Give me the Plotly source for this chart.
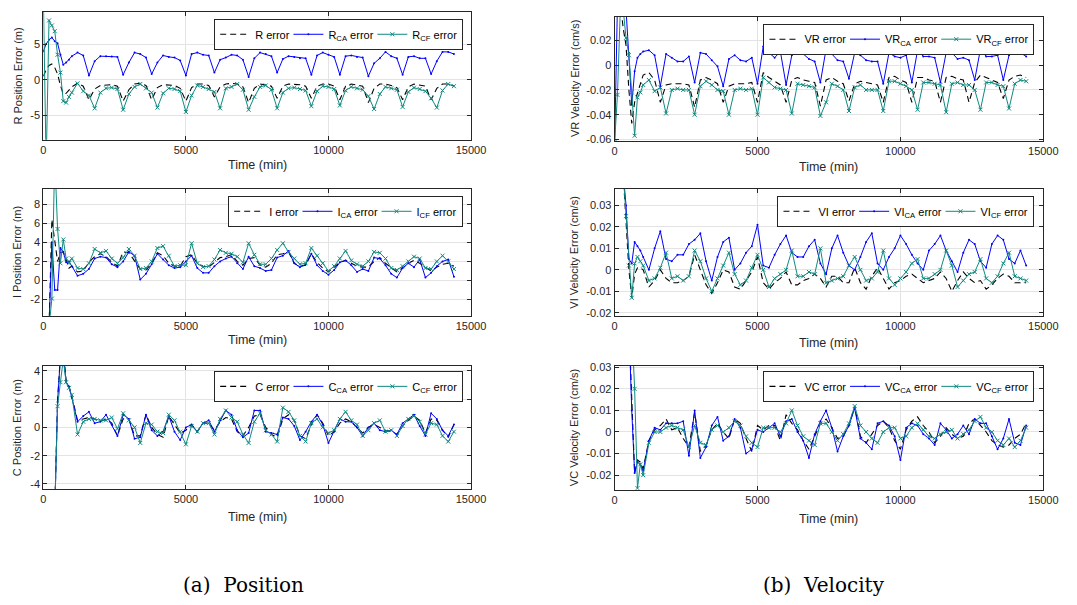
import plotly.graph_objects as go

# sample times (min), shared by every series
TIME = [0, 100, 200, 300, 400, 500, 600, 700, 800, 900, 1000,
        1200, 1400, 1600, 1800, 2000, 2200, 2400, 2600, 2800, 3000,
        3200, 3400, 3600, 3800, 4000, 4200, 4400, 4600, 4800, 5000,
        5200, 5400, 5600, 5800, 6000, 6200, 6400, 6600, 6800, 7000,
        7200, 7400, 7600, 7800, 8000, 8200, 8400, 8600, 8800, 9000,
        9200, 9400, 9600, 9800, 10000, 10200, 10400, 10600, 10800, 11000,
        11200, 11400, 11600, 11800, 12000, 12200, 12400, 12600, 12800, 13000,
        13200, 13400, 13600, 13800, 14000, 14200, 14400]

# ---- position errors (m) ----
R_ERR = [0.5, 1.4, 2.0, 2.2, 1.7, 0.8, -0.8, -2.0, -1.9, -1.5, -1.0,
         -0.5, -0.9, -2.8, -1.3, -0.8, -0.7, -0.7, -0.9, -3.0, -1.4,
         -0.6, -0.5, -0.8, -2.8, -1.1, -0.7, -0.7, -0.8, -1.2, -3.0,
         -1.1, -0.6, -0.6, -0.8, -2.4, -1.0, -0.6, -0.5, -0.6, -1.0,
         -3.2, -1.2, -0.6, -0.7, -0.9, -2.6, -0.9, -0.6, -0.6, -0.7,
         -0.9, -2.6, -0.9, -0.6, -0.6, -0.9, -2.8, -0.9, -0.6, -0.7,
         -0.9, -3.2, -1.2, -0.6, -0.6, -0.8, -1.1, -2.8, -1.0, -0.6,
         -0.7, -0.9, -2.8, -1.2, -0.6, -0.6, -0.9]
R_CA = [4.0, 5.0, 5.6, 5.9, 5.4, 5.1, 3.5, 2.1, 2.4, 2.8, 3.3,
        3.8, 3.4, 0.6, 2.6, 3.3, 3.3, 3.25, 3.2, 0.7, 2.4,
        3.8, 3.6, 3.1, 0.8, 2.4, 3.4, 3.2, 3.1, 2.7, 0.6,
        3.6, 3.8, 3.5, 3.4, 1.0, 2.8, 3.1, 3.5, 3.4, 2.8,
        0.4, 3.0, 3.8, 3.6, 3.3, 1.0, 2.9, 3.3, 3.2, 3.0,
        3.0, 0.7, 3.4, 3.8, 3.5, 3.2, 0.7, 3.3, 3.4, 3.2,
        3.1, 0.5, 2.3, 3.0, 3.9, 3.3, 3.0, 0.7, 3.2, 3.3,
        3.0, 3.0, 0.8, 2.6, 3.9, 3.9, 3.6]
R_CF = [12, -12, 8.3, 7.6, 6.8, 3.5, 1.0, -3.0, -3.2, -2.4, -1.8,
        -0.5, -1.6, -2.2, -4.0, -1.8, -1.2, -1.1, -1.3, -4.2, -2.0,
        -1.0, -0.6, -1.2, -1.8, -3.9, -1.9, -1.2, -1.3, -1.6, -4.5,
        -2.2, -0.8, -1.0, -1.3, -1.7, -4.0, -1.2, -1.0, -0.6, -1.4,
        -4.2, -2.4, -1.0, -0.8, -1.4, -4.0, -1.8, -1.2, -1.1, -1.3,
        -1.5, -3.7, -1.6, -0.9, -1.0, -1.3, -3.6, -1.5, -1.0, -1.2,
        -1.4, -2.3, -4.1, -2.0, -1.0, -1.2, -1.4, -3.8, -1.7, -1.1,
        -1.3, -1.6, -2.6, -3.9, -1.5, -0.6, -0.9]

I_ERR = [None, None, -5, 6.4, 4.2, 2.0, 2.9, 3.0, 2.2, 1.3, 1.5,
         0.9, 1.0, 1.9, 2.5, 2.8, 2.5, 1.9, 1.5, 3.0, 2.9,
         2.0, 1.2, 1.1, 1.8, 2.9, 2.6, 1.8, 1.5, 1.5, 2.5,
         2.7, 1.8, 1.5, 1.4, 1.9, 2.4, 2.5, 2.7, 2.0, 1.6,
         2.3, 2.4, 1.6, 1.4, 1.8, 2.7, 2.8, 3.0, 1.8, 1.5,
         1.6, 2.8, 1.9, 1.3, 0.9, 1.4, 1.9, 2.1, 1.8, 1.5,
         1.4, 1.4, 2.0, 2.4, 1.8, 1.3, 0.9, 1.3, 1.8, 2.1,
         1.8, 1.4, 1.0, 1.4, 1.7, 1.8, 1.5]
I_CA = [None, None, -5, 4.0, -1.0, -1.0, 3.4, 3.0, 1.9, 2.0, 1.5,
        0.5, 0.7, 1.2, 2.3, 2.5, 2.4, 1.7, 1.4, 2.0, 3.0,
        2.6, 0.1, 0.7, 1.7, 2.8, 2.2, 1.6, 1.3, 1.4, 2.0,
        2.6, 1.3, 0.8, 0.8, 1.5, 2.0, 2.3, 2.5, 1.8, 1.2,
        2.5, 1.5, 1.3, 1.0, 1.1, 2.4, 2.6, 3.1, 1.8, 1.4,
        1.7, 2.8, 1.6, 1.0, 0.6, 1.1, 1.9, 2.1, 1.6, 0.9,
        1.2, 1.0, 2.4, 2.3, 1.6, 0.7, 0.3, 1.3, 1.8, 1.4,
        2.2, 0.3, 0.8, 1.5, 2.0, 2.2, 0.4]
I_CF = [None, None, -5, -1.9, 13, 5.4, 1.8, 4.3, 2.3, 1.8, 2.3,
        1.3, 1.2, 1.8, 3.3, 2.9, 3.1, 2.3, 1.8, 2.4, 3.3,
        2.6, 1.2, 1.3, 2.0, 3.4, 3.6, 2.6, 1.5, 1.6, 1.6,
        3.9, 1.8, 1.4, 1.5, 2.2, 3.2, 2.9, 2.8, 2.5, 1.9,
        3.9, 2.7, 1.7, 1.7, 2.3, 3.2, 3.9, 3.0, 2.3, 1.7,
        1.8, 3.4, 2.6, 1.8, 1.0, 1.5, 2.3, 3.1, 2.1, 1.7,
        1.5, 2.0, 3.0, 2.9, 2.3, 1.3, 1.1, 1.5, 2.0, 2.5,
        2.3, 1.3, 1.2, 2.0, 2.6, 2.0, 1.2]

C_ERR = [None, None, None, None, -6, 2.0, 5.0, 5.5, 3.3, 2.9, 2.2,
         0.5, 0.6, 0.7, 0.6, 0.4, 0.6, 0.3, -0.6, 0.6, 0.6,
         -0.6, -0.6, 0.9, 0.0, -0.5, -0.7, 0.8, 0.2, -0.4, -0.2,
         0.2, -0.3, 0.3, 0.3, -0.2, 0.4, 0.7, 0.6, -0.3, -0.6,
         0.0, 0.8, 0.9, 0.0, -0.5, -0.7, 0.6, 0.9, 0.5, -0.6,
         -0.8, 0.2, 0.9, 0.3, -0.6, -0.3, 0.3, 0.6, 0.4, 0.0,
         -0.4, 0.0, 0.2, 0.0, -0.2, -0.3, -0.5, 0.1, 0.5, 0.8,
         0.5, -0.4, 0.6, 0.5, -0.2, -0.7, 0.2]
C_CA = [None, None, None, None, -6, 1.8, 5.0, 5.2, 3.2, 2.9, 2.1,
        0.4, 0.8, 1.1, 0.3, 0.4, 0.9, 0.2, -0.6, 0.9, 0.6,
        -0.8, -0.7, 0.9, -0.2, -0.6, -0.3, 0.8, -0.3, -0.9, 0.0,
        0.2, -0.3, 0.3, 0.5, -0.3, 0.5, 1.2, 0.9, -0.2, -0.7,
        -0.4, 1.2, 1.2, -0.3, -0.4, -0.5, 0.7, 0.6, 0.1, -0.9,
        -0.3, 0.4, 0.9, 0.2, -1.1, -0.3, 0.6, 0.4, 0.4, 0.0,
        -0.6, 0.0, 0.3, -0.2, -0.3, -0.2, -0.5, 0.3, 0.6, 0.9,
        0.1, -0.6, 1.0, 0.6, -0.2, -0.6, 0.2]
C_CF = [None, None, None, None, -6, 1.5, 3.2, 4.8, 3.2, 2.8, 2.3,
        -0.5, 0.4, 0.6, 0.6, 0.5, 0.5, 0.7, -0.1, 1.0, 0.5,
        0.0, -1.1, 0.3, 0.2, -0.3, -0.4, 0.9, 0.5, -0.3, -1.2,
        0.1, -0.3, 0.3, 0.3, -0.5, 0.6, 1.2, 0.7, 0.4, -0.5,
        -1.1, 0.4, 1.0, -0.2, -0.5, -1.0, 1.4, 1.1, 0.5, -0.6,
        -1.0, 0.3, 0.6, 0.0, -0.4, -0.2, 0.6, 1.1, 0.5, 0.2,
        -0.6, -0.2, 0.3, 0.5, -0.3, -0.2, -0.6, 0.1, 0.6, 0.8,
        0.4, -0.5, 0.3, 0.2, -0.6, -1.0, -0.3]

# ---- velocity errors (cm/s) ----
VR_ERR = [None, 0.05, 0.05, 0.03, 0.016, -0.02, -0.047, -0.03, -0.022, -0.014, -0.008,
          -0.006, -0.012, -0.030, -0.016, -0.015, -0.015, -0.015, -0.016, -0.034, -0.012,
          -0.010, -0.012, -0.015, -0.030, -0.017, -0.015, -0.015, -0.015, -0.014, -0.030,
          -0.006, -0.010, -0.013, -0.016, -0.030, -0.012, -0.010, -0.012, -0.013, -0.014,
          -0.033, -0.012, -0.010, -0.013, -0.015, -0.029, -0.015, -0.013, -0.014, -0.015,
          -0.016, -0.030, -0.010, -0.009, -0.012, -0.014, -0.030, -0.010, -0.010, -0.012,
          -0.013, -0.030, -0.010, -0.009, -0.011, -0.012, -0.030, -0.014, -0.008, -0.010,
          -0.012, -0.014, -0.027, -0.012, -0.009, -0.008, -0.010]
VR_CA = [-0.065, 0.05, 0.05, 0.05, 0.045, 0.01, -0.032, -0.005, 0.006, 0.009, 0.011,
         0.012, 0.008, -0.017, 0.009, 0.006, 0.003, 0.003, 0.007, -0.014, 0.010,
         0.009, 0.004, -0.001, -0.017, 0.005, 0.008, 0.004, 0.003, 0.006, -0.015,
         0.015, 0.010, 0.006, 0.011, -0.016, 0.008, 0.011, 0.009, 0.005, 0.003,
         -0.014, 0.013, 0.009, 0.004, 0.003, -0.011, 0.010, 0.008, 0.004, 0.003,
         0.003, -0.015, 0.010, 0.007, 0.006, 0.008, -0.014, 0.012, 0.007, 0.007,
         0.006, -0.014, 0.010, 0.010, 0.005, 0.006, 0.004, -0.012, 0.013, 0.007,
         0.007, 0.008, -0.012, 0.008, 0.016, 0.010, 0.007]
VR_CF = [-0.062, -0.024, 0.045, 0.045, 0.022, 0.008, -0.022, -0.057, -0.026, -0.022, -0.016,
         -0.012, -0.021, -0.018, -0.039, -0.020, -0.019, -0.020, -0.020, -0.040, -0.017,
         -0.013, -0.016, -0.020, -0.021, -0.040, -0.020, -0.019, -0.020, -0.019, -0.040,
         -0.010, -0.014, -0.018, -0.019, -0.020, -0.039, -0.015, -0.016, -0.017, -0.018,
         -0.041, -0.030, -0.015, -0.017, -0.020, -0.037, -0.018, -0.016, -0.020, -0.020,
         -0.020, -0.037, -0.013, -0.013, -0.015, -0.017, -0.020, -0.036, -0.014, -0.014,
         -0.015, -0.016, -0.038, -0.015, -0.014, -0.016, -0.016, -0.020, -0.036, -0.014,
         -0.014, -0.016, -0.017, -0.035, -0.015, -0.012, -0.013]

VI_ERR = [None, None, None, 0.045, 0.025, 0.0, -0.013, -0.002, 0.001, 0.001, 0.0,
          -0.008, -0.005, 0.000, -0.004, -0.006, -0.006, -0.005, -0.003, 0.007, 0.000,
          -0.007, -0.011, -0.006, 0.000, -0.001, -0.008, -0.009, -0.005, -0.001, 0.006,
          -0.006, -0.009, -0.006, -0.004, -0.001, -0.007, -0.007, -0.005, -0.004, -0.002,
          -0.004, -0.008, -0.003, -0.003, -0.006, -0.006, 0.001, -0.006, -0.009, -0.003,
          0.001, -0.004, -0.009, -0.006, -0.005, -0.003, -0.002, -0.004, -0.006, -0.005,
          -0.004, -0.001, -0.004, -0.010, -0.005, -0.001, -0.004, -0.006, -0.005, -0.009,
          -0.007, -0.004, -0.002, -0.003, -0.006, -0.006, -0.006]
VI_CA = [None, None, None, 0.045, 0.03, 0.005, 0.003, 0.013, 0.011, 0.009, 0.006,
         0.000, 0.010, 0.018, 0.005, 0.004, 0.007, 0.007, 0.012, 0.014, 0.017,
         0.004, -0.005, 0.006, 0.013, 0.015, 0.000, 0.003, 0.008, 0.011, 0.021,
         0.002, 0.001, 0.007, 0.012, 0.016, 0.008, 0.006, 0.006, 0.011, 0.014,
         0.003, -0.002, 0.010, 0.016, 0.008, 0.002, 0.000, 0.006, 0.013, 0.017,
         0.003, 0.000, 0.006, 0.010, 0.016, 0.012, 0.007, 0.003, 0.000, 0.009,
         0.012, 0.016, 0.009, 0.004, -0.001, 0.008, 0.014, 0.012, 0.004, 0.001,
         0.012, 0.016, 0.014, 0.005, 0.003, 0.009, 0.002]
VI_CF = [None, None, None, 0.045, 0.025, 0.002, -0.013, 0.003, 0.006, 0.004, 0.002,
         -0.005, -0.004, 0.001, 0.008, -0.004, -0.003, -0.005, -0.003, 0.009, 0.004,
         -0.004, -0.010, -0.004, 0.002, 0.008, -0.002, -0.007, -0.005, 0.001, 0.007,
         0.000, -0.008, -0.004, -0.002, 0.000, 0.009, -0.003, -0.003, -0.001, -0.002,
         0.010, -0.006, -0.005, -0.004, -0.003, 0.002, 0.006, 0.000, -0.005, -0.004,
         -0.001, 0.009, -0.004, -0.007, -0.004, -0.001, 0.003, 0.005, -0.004, -0.004,
         -0.002, 0.000, 0.009, 0.002, -0.008, -0.005, -0.002, -0.001, 0.005, -0.004,
         -0.006, -0.003, 0.003, 0.008, -0.003, -0.004, -0.005]

VC_ERR = [None, None, None, None, None, 0.05, 0.012, -0.019, -0.013, -0.014, -0.017,
          -0.004, 0.001, 0.003, 0.006, 0.001, 0.002, -0.003, -0.007, 0.009, -0.009,
          -0.006, 0.001, 0.004, 0.000, -0.003, 0.006, 0.004, -0.003, -0.009, 0.003,
          0.001, 0.003, 0.003, -0.004, 0.008, 0.004, 0.001, -0.004, -0.008, -0.002,
          0.004, 0.006, 0.002, -0.003, -0.002, 0.003, 0.012, -0.002, -0.005, -0.001,
          0.003, 0.005, 0.002, -0.004, -0.008, 0.001, 0.005, 0.007, 0.003, 0.000,
          -0.005, -0.002, 0.002, -0.001, -0.003, -0.002, 0.004, 0.006, 0.003, 0.000,
          -0.004, -0.006, -0.007, -0.006, -0.003, -0.001, 0.004]
VC_CA = [None, None, None, None, None, 0.05, 0.01, -0.019, -0.014, -0.015, -0.018,
         -0.004, 0.002, 0.001, 0.004, 0.004, 0.004, 0.005, -0.011, 0.010, -0.012,
         -0.007, 0.003, 0.007, -0.004, -0.002, 0.006, 0.002, -0.010, -0.008, 0.001,
         0.000, 0.002, 0.004, -0.002, 0.005, 0.006, 0.000, -0.004, -0.012, -0.001,
         0.005, 0.010, 0.002, -0.009, -0.002, 0.003, 0.011, -0.003, -0.005, -0.008,
         0.004, 0.005, 0.003, -0.002, -0.013, 0.002, 0.004, 0.003, -0.001, -0.003,
         -0.006, 0.004, 0.001, -0.003, -0.001, 0.003, -0.001, 0.006, 0.004, 0.004,
         -0.002, -0.008, -0.003, 0.006, -0.005, -0.006, 0.003]
VC_CF = [None, None, None, None, None, None, 0.05, 0.02, -0.026, -0.015, -0.020,
         -0.005, 0.000, 0.000, 0.002, 0.003, 0.002, 0.001, -0.007, 0.003, -0.005,
         -0.006, 0.001, 0.003, 0.000, 0.002, 0.005, 0.003, -0.002, -0.005, -0.007,
         0.002, 0.002, 0.002, 0.000, 0.004, 0.010, 0.003, -0.002, -0.004, -0.006,
         0.004, 0.004, 0.000, -0.004, -0.001, 0.004, 0.012, 0.003, 0.000, -0.003,
         -0.005, 0.000, 0.002, 0.002, -0.003, -0.002, 0.002, 0.004, 0.001, -0.002,
         -0.003, -0.001, 0.000, 0.001, -0.003, -0.001, 0.001, 0.005, 0.007, 0.002,
         0.000, -0.004, -0.006, -0.003, -0.007, -0.004, 0.002]

X_TICKS = [0, 5000, 10000, 15000]

W, H = 1077, 605
AX = "#262626"
GRID = "#e3e3e3"
BLUE = "#0000ff"
TEAL = "#0e8a80"
FONT = "Arial"
LEG_SIZE = 11

# panel layout in pixels: (left, right, top, bottom)
PANELS = [
    dict(name="R", ylab="R Position Error (m)", box=(41, 476, 7, 137), yr=[-8.4, 9.5],
         yt=[-5, 0, 5], err=R_ERR, ca=R_CA, cf=R_CF, leg=(468, 14), xt_y=163, yl_x=15),
    dict(name="I", ylab="I Position Error (m)", box=(41, 476, 187, 316), yr=[-3.7, 9.6],
         yt=[-2, 0, 2, 4, 6, 8], err=I_ERR, ca=I_CA, cf=I_CF, leg=(468, 194), xt_y=341, yl_x=15),
    dict(name="C", ylab="C Position Error (m)", box=(41, 476, 367, 492), yr=[-4.35, 4.35],
         yt=[-4, -2, 0, 2, 4], err=C_ERR, ca=C_CA, cf=C_CF, leg=(468, 372), xt_y=521, yl_x=15),
    dict(name="VR", ylab="VR Velocity Error (cm/s)", box=(622, 1058, 12, 138), yr=[-0.061, 0.039],
         yt=[-0.06, -0.04, -0.02, 0, 0.02], err=VR_ERR, ca=VR_CA, cf=VR_CF, leg=(1049, 19), xt_y=165, yl_x=581),
    dict(name="VI", ylab="VI Velocity Error (cm/s)", box=(622, 1058, 187, 316), yr=[-0.0214, 0.0377],
         yt=[-0.02, -0.01, 0, 0.01, 0.02, 0.03], err=VI_ERR, ca=VI_CA, cf=VI_CF, leg=(1049, 194), xt_y=344, yl_x=581),
    dict(name="VC", ylab="VC Velocity Error (cm/s)", box=(622, 1058, 367, 493), yr=[-0.0268, 0.0306],
         yt=[-0.02, -0.01, 0, 0.01, 0.02, 0.03], err=VC_ERR, ca=VC_CA, cf=VC_CF, leg=(1049, 372), xt_y=523, yl_x=581),
]

# rough Arial advance widths (em) for the legend labels
CHAR_EM = {"R": 0.722, "V": 0.667, "I": 0.278, "C": 0.722, "A": 0.667, "F": 0.611,
           " ": 0.278, "e": 0.556, "r": 0.333, "o": 0.556}


def label_width(main, sub=""):
    w = sum(CHAR_EM.get(c, 0.55) for c in main) * LEG_SIZE
    w += sum(CHAR_EM.get(c, 0.55) for c in sub) * LEG_SIZE * 0.7
    w += sum(CHAR_EM.get(c, 0.55) for c in " error") * LEG_SIZE
    return w


def fmt(v):
    if v == 0:
        return "0"
    return ("%g" % v)


fig = go.Figure()
layout = dict(width=W, height=H, margin=dict(l=0, r=0, t=0, b=0),
              paper_bgcolor="white", plot_bgcolor="white",
              font=dict(family=FONT, color=AX), annotations=[])

for i, p in enumerate(PANELS, start=1):
    sfx = "" if i == 1 else str(i)
    xa, ya = "x" + sfx, "y" + sfx
    leg = "legend" + sfx
    l, r, t, b = p["box"]
    n = p["name"]

    # tighten the first two legend entries a little (legend symbols are wider than MATLAB's)
    fig.add_trace(go.Scatter(x=TIME, y=p["err"], mode="lines", name=f"{n} error",
                             line=dict(color="black", width=1.1, dash="6px,4px"),
                             legendwidth=label_width(n) - 6,
                             xaxis=xa, yaxis=ya, legend=leg))
    fig.add_trace(go.Scatter(x=TIME, y=p["ca"], mode="lines+markers", name=f"{n}<sub>CA</sub> error",
                             line=dict(color=BLUE, width=1), marker=dict(size=2, color=BLUE),
                             legendwidth=label_width(n, "CA") - 6,
                             xaxis=xa, yaxis=ya, legend=leg))
    fig.add_trace(go.Scatter(x=TIME, y=p["cf"], mode="lines+markers", name=f"{n}<sub>CF</sub> error",
                             line=dict(color=TEAL, width=1),
                             marker=dict(symbol="x-thin", size=4, color=TEAL, line=dict(color=TEAL, width=1)),
                             xaxis=xa, yaxis=ya, legend=leg))

    common = dict(showline=True, linecolor=AX, linewidth=1, mirror="allticks",
                  ticks="inside", ticklen=4, tickcolor=AX, showgrid=True,
                  gridcolor=GRID, gridwidth=1, zeroline=False,
                  tickfont=dict(size=11, color=AX, family=FONT))
    layout["xaxis" + sfx] = dict(common, domain=[l / W, r / W], anchor=ya, range=[0, 15000],
                                 tickvals=X_TICKS, ticktext=[str(v) for v in X_TICKS])
    layout["yaxis" + sfx] = dict(common, domain=[1 - b / H, 1 - t / H], anchor=xa, range=p["yr"],
                                 tickvals=p["yt"], ticktext=[fmt(v) for v in p["yt"]])
    lx, ly = p["leg"]
    layout[leg] = dict(x=lx / W, y=1 - ly / H, xanchor="right", yanchor="top",
                       orientation="h", bgcolor="white", bordercolor=AX, borderwidth=1,
                       font=dict(size=LEG_SIZE, color="black", family=FONT),
                       itemwidth=30, tracegroupgap=0)
    layout["annotations"].append(dict(text="Time (min)", x=(l + r) / 2 / W, y=1 - p["xt_y"] / H,
                                      xref="paper", yref="paper", showarrow=False,
                                      xanchor="center", yanchor="middle",
                                      font=dict(size=12.5, color=AX, family=FONT)))
    layout["annotations"].append(dict(text=p["ylab"], x=p["yl_x"] / W, y=1 - (t + b) / 2 / H,
                                      xref="paper", yref="paper", showarrow=False, textangle=-90,
                                      xanchor="center", yanchor="middle",
                                      font=dict(size=11, color=AX, family=FONT)))

# sub-figure captions
for txt, cx in [("(a)  Position", 245), ("(b)  Velocity", 835)]:
    layout["annotations"].append(dict(text=txt, x=cx / W, y=1 - 590 / H, xref="paper", yref="paper",
                                      showarrow=False, xanchor="center", yanchor="middle",
                                      font=dict(size=20, color="black", family="DejaVu Serif, serif")))

layout["showlegend"] = True
fig.update_layout(**layout)
fig.write_html("out.html", config={"displayModeBar": False},
               post_script="document.body.style.margin='0px';")
